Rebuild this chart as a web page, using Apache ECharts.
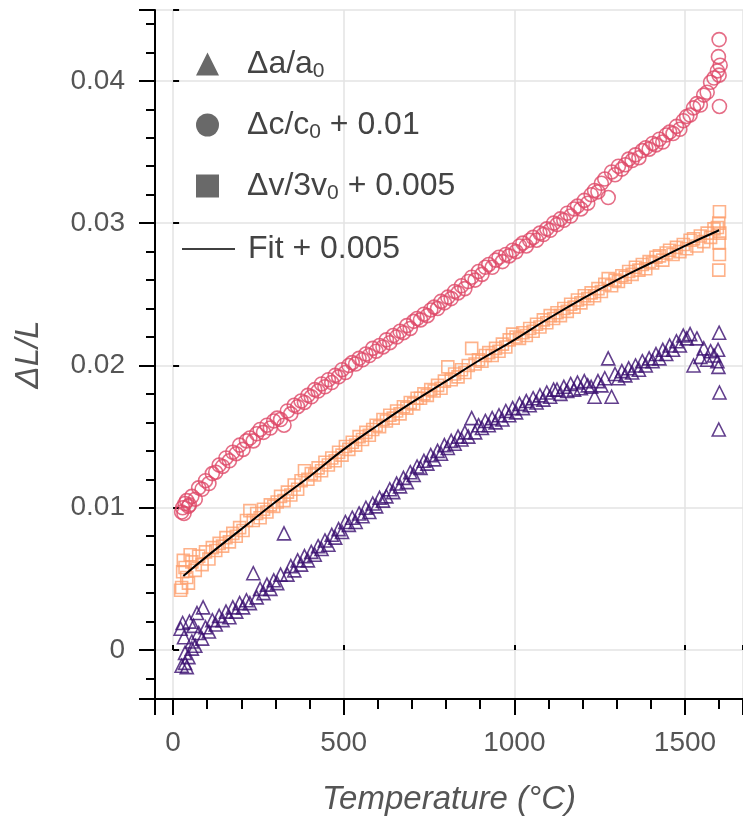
<!DOCTYPE html>
<html><head><meta charset="utf-8">
<script src="https://cdn.jsdelivr.net/npm/echarts@6/dist/echarts.min.js"></script>
<style>html,body{margin:0;padding:0;background:#fff}#c{width:743px;height:825px}</style>
</head><body><div id="c"></div>
<script>
// Temperatures (°C) shared by the three measured series
const temps = [
  25,35,45,55,65,75,85,95,105,115,
  125,135,145,155,165,175,185,195,205,215,
  225,235,245,255,265,275,285,295,305,315,
  325,335,345,355,365,375,385,395,405,415,
  425,435,445,455,465,475,485,495,505,515,
  525,535,545,555,565,575,585,595,605,615,
  625,635,645,655,665,675,685,695,705,715,
  725,735,745,755,765,775,785,795,805,815,
  825,835,845,855,865,875,885,895,905,915,
  925,935,945,955,965,975,985,995,1005,1015,
  1025,1035,1045,1055,1065,1075,1085,1095,1105,1115,
  1125,1135,1145,1155,1165,1175,1185,1195,1205,1215,
  1225,1235,1245,1255,1265,1275,1285,1295,1305,1315,
  1325,1335,1345,1355,1365,1375,1385,1395,1405,1415,
  1425,1435,1445,1455,1465,1475,1485,1495,1505,1515,
  1525,1535,1545,1555,1565,1575,1585,1595
];
// Δa/a0
const aVals = [
  -0.0011,-0.0002,-0.0005,0.0006,0.0003,0.0012,0.0008,0.0016,0.0013,0.0021,
  0.0018,0.0024,0.0021,0.0027,0.0023,0.0030,0.0027,0.0033,0.0030,0.0035,
  0.0033,0.0054,0.0037,0.0043,0.0040,0.0046,0.0043,0.0049,0.0047,0.0053,
  0.0082,0.0053,0.0059,0.0056,0.0063,0.0060,0.0066,0.0063,0.0069,0.0067,
  0.0073,0.0071,0.0077,0.0074,0.0081,0.0079,0.0085,0.0083,0.0090,0.0088,
  0.0093,0.0090,0.0096,0.0094,0.0100,0.0097,0.0103,0.0101,0.0107,0.0105,
  0.0108,0.0113,0.0111,0.0117,0.0115,0.0121,0.0118,0.0125,0.0123,0.0129,
  0.0128,0.0133,0.0131,0.0137,0.0134,0.0140,0.0138,0.0144,0.0142,0.0147,
  0.0145,0.0150,0.0148,0.0153,0.0150,0.0163,0.0153,0.0158,0.0156,0.0161,
  0.0158,0.0163,0.0160,0.0165,0.0162,0.0168,0.0165,0.0170,0.0167,0.0173,
  0.0170,0.0175,0.0172,0.0177,0.0174,0.0179,0.0176,0.0181,0.0178,0.0183,
  0.0183,0.0180,0.0185,0.0182,0.0187,0.0183,0.0188,0.0184,0.0189,0.0186,
  0.0185,0.0178,0.0189,0.0186,0.0191,0.0205,0.0178,0.0194,0.0191,0.0196,
  0.0193,0.0198,0.0195,0.0200,0.0197,0.0203,0.0200,0.0205,0.0203,0.0208,
  0.0205,0.0211,0.0208,0.0214,0.0211,0.0217,0.0214,0.0221,0.0219,0.0222,
  0.0200,0.0219,0.0206,0.0212,0.0204,0.0210,0.0207,0.0203
];
const aExtra = [[22,0.0015],[28,0.0019],[32,0.0009],[40,-0.0012],[48,0.0020],[60,0.0017],[70,0.0026],[88,0.0030],[35,-0.0009],[55,0.0001],
  [1600,0.0223],[1598,0.0199],[1601,0.0181],[1599,0.0155],[1597,0.0211]];
// Δc/c0 + 0.01
const cVals = [
  0.0097,0.0103,0.0101,0.0108,0.0106,0.0114,0.0113,0.0119,0.0117,0.0124,
  0.0125,0.0130,0.0129,0.0135,0.0133,0.0139,0.0138,0.0144,0.0141,0.0147,
  0.0149,0.0147,0.0152,0.0155,0.0153,0.0158,0.0156,0.0161,0.0163,0.0162,
  0.0158,0.0168,0.0166,0.0172,0.0171,0.0175,0.0174,0.0179,0.0178,0.0183,
  0.0182,0.0187,0.0185,0.0190,0.0188,0.0193,0.0192,0.0197,0.0195,0.0200,
  0.0202,0.0201,0.0205,0.0204,0.0208,0.0207,0.0212,0.0210,0.0214,0.0213,
  0.0218,0.0216,0.0221,0.0220,0.0224,0.0223,0.0228,0.0226,0.0231,0.0233,
  0.0232,0.0236,0.0235,0.0239,0.0241,0.0240,0.0245,0.0244,0.0248,0.0247,
  0.0252,0.0251,0.0256,0.0254,0.0259,0.0262,0.0260,0.0266,0.0264,0.0269,
  0.0271,0.0269,0.0274,0.0276,0.0273,0.0278,0.0277,0.0281,0.0280,0.0284,
  0.0286,0.0284,0.0288,0.0290,0.0288,0.0293,0.0292,0.0296,0.0295,0.0300,
  0.0299,0.0303,0.0302,0.0307,0.0305,0.0310,0.0312,0.0310,0.0316,0.0314,
  0.0320,0.0323,0.0322,0.0328,0.0331,0.0318,0.0336,0.0334,0.0340,0.0338,
  0.0341,0.0345,0.0344,0.0348,0.0346,0.0351,0.0353,0.0352,0.0356,0.0355,
  0.0359,0.0357,0.0362,0.0364,0.0363,0.0368,0.0366,0.0372,0.0375,0.0376,
  0.0381,0.0384,0.0383,0.0390,0.0392,0.0399,0.0402,0.0407
];
const cExtra = [[28,0.0100],[32,0.0096],[40,0.0105],[48,0.0102],
  [1600,0.0429],[1598,0.0417],[1603,0.0411],[1600,0.0404],[1601,0.0382]];
// Δv/3v0 + 0.005
const vVals = [
  0.0044,0.0058,0.0047,0.0062,0.0056,0.0066,0.0060,0.0069,0.0064,0.0072,
  0.0070,0.0075,0.0073,0.0079,0.0076,0.0082,0.0080,0.0086,0.0084,0.0091,
  0.0098,0.0091,0.0096,0.0093,0.0099,0.0097,0.0102,0.0101,0.0104,0.0108,
  0.0105,0.0111,0.0109,0.0116,0.0113,0.0119,0.0126,0.0120,0.0124,0.0123,
  0.0128,0.0126,0.0132,0.0130,0.0135,0.0133,0.0139,0.0137,0.0143,0.0141,
  0.0146,0.0144,0.0150,0.0148,0.0153,0.0151,0.0155,0.0158,0.0157,0.0162,
  0.0161,0.0165,0.0163,0.0168,0.0166,0.0171,0.0170,0.0174,0.0173,0.0177,
  0.0177,0.0180,0.0179,0.0183,0.0182,0.0186,0.0184,0.0189,0.0199,0.0190,
  0.0194,0.0192,0.0197,0.0195,0.0200,0.0212,0.0201,0.0204,0.0203,0.0207,
  0.0209,0.0207,0.0212,0.0210,0.0215,0.0213,0.0218,0.0222,0.0220,0.0219,
  0.0223,0.0221,0.0226,0.0224,0.0229,0.0227,0.0232,0.0230,0.0235,0.0233,
  0.0237,0.0235,0.0240,0.0238,0.0243,0.0241,0.0246,0.0244,0.0249,0.0247,
  0.0251,0.0249,0.0254,0.0252,0.0257,0.0261,0.0256,0.0260,0.0259,0.0263,
  0.0262,0.0266,0.0264,0.0269,0.0267,0.0271,0.0268,0.0273,0.0272,0.0276,
  0.0277,0.0274,0.0279,0.0281,0.0278,0.0283,0.0280,0.0285,0.0282,0.0288,
  0.0289,0.0284,0.0291,0.0287,0.0293,0.0290,0.0296,0.0297
];
const vExtra = [[22,0.0042],[30,0.0063],[40,0.0051],[50,0.0067],[28,0.0055],
  [1601,0.0308],[1599,0.0300],[1602,0.0293],[1600,0.0286],[1601,0.0278],[1599,0.0267]];
// Fit + 0.005
const fitT = [30,100,200,300,400,500,600,700,800,900,1000,1100,1200,1300,1400,1500,1600];
const fitV = [0.0052,0.0066,0.0085,0.0104,0.0122,0.0141,0.0158,0.0174,0.0189,0.0204,0.0218,0.0233,0.0247,0.0260,0.0272,0.0284,0.0295];

const seriesNames = ['Δa/a0', 'Δc/c0 + 0.01', 'Δv/3v0 + 0.005', 'Fit + 0.005'];
const legendRich = {
  'Δa/a0': '{m0|Δa/a}{s|0}',
  'Δc/c0 + 0.01': '{m0|Δc/c}{s|0}{m| + 0.01}',
  'Δv/3v0 + 0.005': '{m0|Δv/3v}{s|0}{m| + 0.005}',
  'Fit + 0.005': '{m1|Fit + 0.005}'
};

const pairs = (xs, ys) => xs.map((x, i) => [x, ys[i]]);
const FONT = "'Liberation Sans', Arial, sans-serif";
const colA = '#3b0f70', colC = '#de4968', colV = '#fe9f6d';

const xMin = -53, xMax = 1670, yMin = -0.00344, yMax = 0.04498;

const richStyles = {
  m0: {fontSize: 32, lineHeight: 36, color: '#444', fontFamily: FONT, padding: [0, 0, 0, 23]},
  m1: {fontSize: 32, lineHeight: 36, color: '#444', fontFamily: FONT, padding: [0, 0, 0, 8]},
  m: {fontSize: 32, lineHeight: 36, color: '#444', fontFamily: FONT},
  s: {fontSize: 21, lineHeight: 21, verticalAlign: 'bottom', color: '#444', fontFamily: FONT}
};

const chart = echarts.init(document.getElementById('c'), null, {renderer: 'canvas'});
chart.setOption({
  animation: false,
  backgroundColor: '#fff',
  textStyle: {fontFamily: FONT},
  grid: {left: 155, right: 0, top: 10, bottom: 126},
  legend: [{
    orient: 'vertical', left: 191, top: 43, padding: 5,
    itemWidth: 23, itemHeight: 23, itemGap: 27,
    selectedMode: false,
    data: [
      {name: seriesNames[0], icon: 'triangle', itemStyle: {color: '#444', borderWidth: 0}},
      {name: seriesNames[1], icon: 'circle', itemStyle: {color: '#444', borderWidth: 0}},
      {name: seriesNames[2], icon: 'rect', itemStyle: {color: '#444', borderWidth: 0}}
    ],
    formatter: n => legendRich[n],
    textStyle: {fontFamily: FONT, color: '#444', rich: richStyles}
  }, {
    orient: 'vertical', left: 177, top: 228, padding: 5,
    itemWidth: 53, itemHeight: 1.6,
    selectedMode: false,
    data: [{name: seriesNames[3], icon: 'rect', itemStyle: {color: '#000', borderWidth: 0}}],
    formatter: n => legendRich[n],
    textStyle: {fontFamily: FONT, color: '#444', rich: richStyles}
  }],
  xAxis: [{
    type: 'value', min: xMin, max: xMax, splitNumber: 4,
    name: 'Temperature (°C)', nameLocation: 'middle', nameGap: 84,
    nameTextStyle: {fontSize: 33, fontStyle: 'italic', color: '#555', fontFamily: FONT},
    axisLine: {show: true, onZero: false, lineStyle: {color: '#000', width: 2}},
    axisTick: {show: true, length: 16, lineStyle: {color: '#000', width: 2}},
    minorTick: {show: true, splitNumber: 5, length: 10, lineStyle: {color: '#000', width: 2}},
    axisLabel: {showMinLabel: false, showMaxLabel: false, fontSize: 28, color: '#555', margin: 30, fontFamily: FONT,
      formatter: v => String(Math.round(v))},
    splitLine: {show: true, lineStyle: {color: '#e3e3e3', width: 1.5}}
  }, {
    type: 'value', min: xMin, max: xMax, splitNumber: 4, position: 'bottom',
    axisLine: {show: false}, axisLabel: {show: false}, splitLine: {show: false},
    axisTick: {show: true, inside: true, length: 5, lineStyle: {color: '#000', width: 2}}
  }],
  yAxis: [{
    type: 'value', min: yMin, max: yMax, splitNumber: 5,
    name: 'ΔL/L', nameLocation: 'middle', nameGap: 110,
    nameTextStyle: {fontSize: 33, fontStyle: 'italic', color: '#555', fontFamily: FONT},
    axisLine: {show: true, onZero: false, lineStyle: {color: '#000', width: 2}},
    axisTick: {show: true, length: 16, lineStyle: {color: '#000', width: 2}},
    minorTick: {show: true, splitNumber: 5, length: 9, lineStyle: {color: '#000', width: 2}},
    axisLabel: {showMinLabel: false, showMaxLabel: false, fontSize: 28, color: '#555', margin: 30, fontFamily: FONT},
    splitLine: {show: true, lineStyle: {color: '#e3e3e3', width: 1.5}}
  }, {
    type: 'value', min: yMin, max: yMax, splitNumber: 5, position: 'left',
    axisLine: {show: false}, axisLabel: {show: false}, splitLine: {show: false},
    axisTick: {show: true, inside: true, length: 6, lineStyle: {color: '#000', width: 2}}
  }],
  series: [
    {
      name: seriesNames[0], type: 'scatter', symbol: 'triangle', symbolSize: 13,
      data: pairs(temps, aVals).concat(aExtra),
      itemStyle: {color: 'rgba(255,255,255,0)', borderColor: colA, borderWidth: 1.6}
    },
    {
      name: seriesNames[1], type: 'scatter', symbol: 'circle', symbolSize: 14,
      data: pairs(temps, cVals).concat(cExtra),
      itemStyle: {color: 'rgba(255,255,255,0)', borderColor: colC, borderWidth: 1.6}
    },
    {
      name: seriesNames[2], type: 'scatter', symbol: 'rect', symbolSize: 12,
      data: pairs(temps, vVals).concat(vExtra),
      itemStyle: {color: 'rgba(255,255,255,0)', borderColor: colV, borderWidth: 1.6}
    },
    {
      name: seriesNames[3], type: 'line', smooth: true, symbol: 'none', showSymbol: false,
      data: pairs(fitT, fitV),
      lineStyle: {color: '#000', width: 2}, itemStyle: {color: '#000'}, z: 5
    }
  ]
});
</script></body></html>
